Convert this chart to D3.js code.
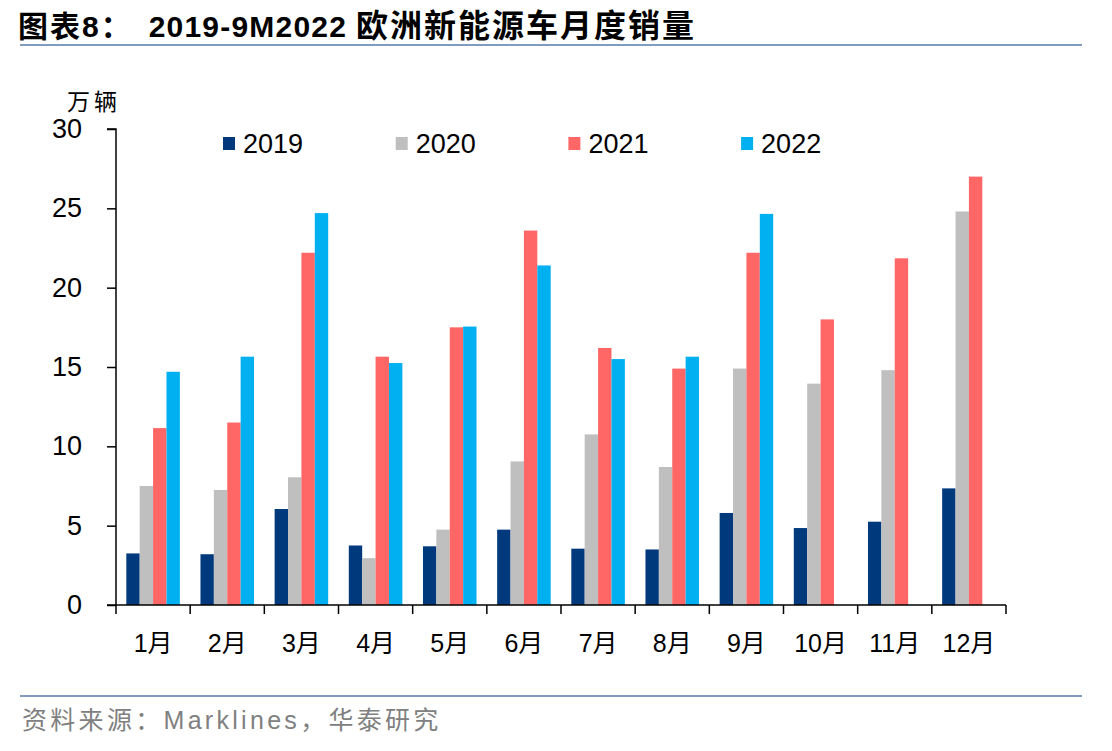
<!DOCTYPE html>
<html>
<head>
<meta charset="utf-8">
<script src="https://cdn.jsdelivr.net/npm/d3@7"></script>
<style>
  body { margin: 0; background: #fff; }
  svg { display: block; font-family: "Liberation Sans", Arial, "Noto Sans CJK SC", sans-serif; }
</style>
</head>
<body>
<div id="chart"></div>
<script>
// data (万辆)
const months = ["1月", "2月", "3月", "4月", "5月", "6月", "7月", "8月", "9月", "10月", "11月", "12月"];
const years = ["2019", "2020", "2021", "2022"];
const sales2019 = [3.25, 3.2, 6.05, 3.75, 3.7, 4.75, 3.55, 3.5, 5.8, 4.85, 5.25, 7.35];
const sales2020 = [7.5, 7.25, 8.05, 2.95, 4.75, 9.05, 10.75, 8.7, 14.9, 13.95, 14.8, 24.8];
const sales2021 = [11.15, 11.5, 22.2, 15.65, 17.5, 23.6, 16.2, 14.9, 22.2, 18.0, 21.85, 27.0];
const sales2022 = [14.7, 15.65, 24.7, 15.25, 17.55, 21.4, 15.5, 15.65, 24.65, null, null, null];
const yTicks = [0, 5, 10, 15, 20, 25, 30];
const colors = ["#003A7D", "#BFBFBF", "#FF6666", "#00B0F0"];

const series = [sales2019, sales2020, sales2021, sales2022];

const W = 1112, H = 751;
const margin = {left: 116, right: 106, top: 129, bottom: 146};

const svg = d3.select("#chart").append("svg")
    .attr("width", W)
    .attr("height", H);

// title + rule
const title = svg.append("text")
    .attr("x", 18)
    .attr("y", 37)
    .attr("font-size", 30)
    .attr("font-weight", "bold")
    .attr("font-family", "'Liberation Sans', 'Noto Sans CJK SC', sans-serif");
title.append("tspan").attr("letter-spacing", 2).text("图表8：");
title.append("tspan").attr("dx", 16).attr("letter-spacing", 1.2).text("2019-9M2022");
title.append("tspan").attr("dx", 9).attr("font-size", 32).attr("letter-spacing", 2).text("欧洲新能源车月度销量");

svg.append("line")
    .attr("x1", 20).attr("x2", 1082)
    .attr("y1", 45).attr("y2", 45)
    .attr("stroke", "#7F9CC0")
    .attr("stroke-width", 2);

const x = d3.scaleBand()
    .domain(months)
    .range([margin.left, W - margin.right])
    .padding(0);

const xInner = d3.scaleBand()
    .domain(years)
    .range([0, x.bandwidth()])
    .paddingOuter(0.77)
    .paddingInner(0);

const y = d3.scaleLinear()
    .domain([0, 30])
    .range([H - margin.bottom, margin.top]);

// bars
const groups = svg.append("g")
    .selectAll("g")
    .data(years)
    .join("g")
    .attr("fill", (d, i) => colors[i]);

groups.selectAll("rect")
    .data((yr, i) => series[i].map((v, j) => ({yr, month: months[j], v})).filter(d => d.v != null))
    .join("rect")
    .attr("x", d => x(d.month) + xInner(d.yr))
    .attr("width", xInner.bandwidth())
    .attr("y", d => y(d.v))
    .attr("height", d => y(0) - y(d.v));

// y axis
const yAxis = svg.append("g")
    .attr("transform", `translate(${margin.left},0)`)
    .call(d3.axisLeft(y).tickValues(yTicks).tickSize(9).tickPadding(25).tickFormat(d3.format("d")));
yAxis.selectAll("path, line").attr("stroke", "#000").attr("stroke-width", 1.5);
yAxis.select(".domain").attr("d", `M-9,${y(30)}H0V${y(0)}`);
yAxis.selectAll("text").attr("font-size", 27).attr("fill", "#000")
    .attr("font-family", "'Liberation Sans', Arial, sans-serif");

// x axis, ticks at category boundaries
const xAxis = svg.append("g")
    .attr("transform", `translate(0,${y(0)})`);
xAxis.append("line")
    .attr("x1", margin.left - 9).attr("x2", W - margin.right)
    .attr("stroke", "#000").attr("stroke-width", 1.5);
xAxis.selectAll(".tick")
    .data(d3.range(months.length + 1))
    .join("line")
    .attr("class", "tick")
    .attr("x1", i => margin.left + i * x.step())
    .attr("x2", i => margin.left + i * x.step())
    .attr("y1", 0).attr("y2", 9)
    .attr("stroke", "#000").attr("stroke-width", 1.5);
xAxis.selectAll(".lbl")
    .data(months)
    .join("text")
    .attr("class", "lbl")
    .attr("x", d => x(d) + x.bandwidth() / 2)
    .attr("y", 47)
    .attr("text-anchor", "middle")
    .attr("font-size", 25)
    .text(d => d);

// unit
svg.append("text")
    .attr("x", 67)
    .attr("y", 110)
    .attr("font-size", 23)
    .attr("letter-spacing", 4)
    .attr("font-family", "'Noto Sans CJK SC', sans-serif")
    .text("万辆");

// legend
const legend = svg.append("g")
    .selectAll("g")
    .data(years)
    .join("g")
    .attr("transform", (d, i) => `translate(${223 + i * 172.7},137)`);
legend.append("rect")
    .attr("width", 12).attr("height", 13)
    .attr("fill", (d, i) => colors[i]);
legend.append("text")
    .attr("x", 20)
    .attr("y", 16)
    .attr("font-size", 27)
    .text(d => d);

// source
svg.append("line")
    .attr("x1", 20).attr("x2", 1082)
    .attr("y1", 696).attr("y2", 696)
    .attr("stroke", "#7F9CC0")
    .attr("stroke-width", 2);
svg.append("text")
    .attr("x", 22)
    .attr("y", 729)
    .attr("font-size", 25)
    .attr("letter-spacing", 3.3)
    .attr("fill", "#808080")
    .attr("font-family", "'Liberation Sans', 'Noto Sans CJK SC', sans-serif")
    .text("资料来源：Marklines，华泰研究");
</script>
</body>
</html>
